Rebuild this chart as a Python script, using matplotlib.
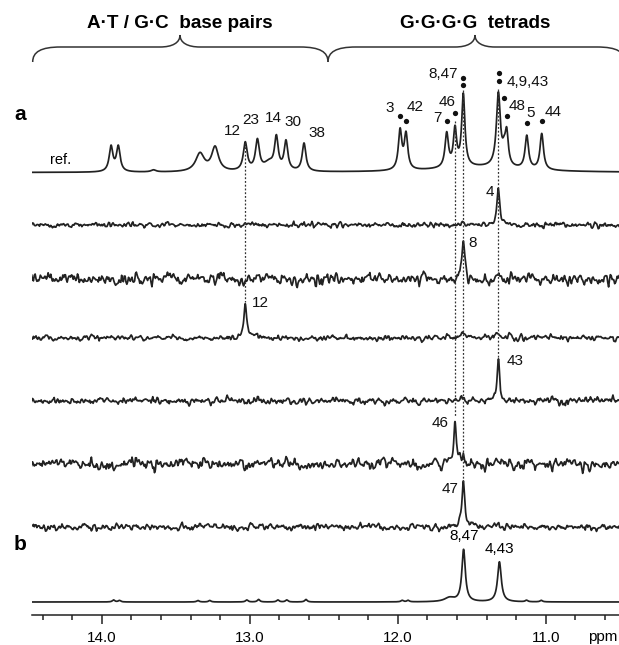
import numpy as np
import matplotlib
matplotlib.use("Agg")
import matplotlib.pyplot as plt
from matplotlib.path import Path
from matplotlib.patches import PathPatch
from matplotlib.ticker import MultipleLocator, FormatStrFormatter

plt.rcParams['font.family'] = ['Liberation Sans', 'DejaVu Sans']

# ---------------------------------------------------------
# DATA (ppm positions, heights in px, half-widths in ppm)
# ---------------------------------------------------------
ref_ppm    = [13.937, 13.888, 13.65, 13.336, 13.234, 13.03, 12.948, 12.87, 12.82, 12.755, 12.633,
              11.984, 11.944, 11.669, 11.613, 11.557, 11.32, 11.282, 11.264, 11.128, 11.027, 11.45]
ref_height = [25, 25, 2, 18, 24, 28, 30, 8, 32, 29, 28,
              39, 35, 34, 37, 72, 73, 10, 32, 33, 36, 5]
ref_width  = [0.015, 0.015, 0.02, 0.035, 0.028, 0.016, 0.016, 0.04, 0.015, 0.015, 0.015,
              0.014, 0.014, 0.014, 0.013, 0.013, 0.016, 0.013, 0.013, 0.014, 0.014, 0.35]

# selective experiments: main peak and a few small breakthrough peaks
sel_names  = ["4", "8", "12", "43", "46", "47"]
sel_ppm    = [11.32, 11.557, 13.03, 11.32, 11.613, 11.557]
sel_height = [37, 35, 35, 39, 43, 43]
sel_noise  = [1.9, 4.0, 2.0, 2.5, 4.0, 2.5]
sel_extra  = [[(11.557, 3)],
              [(11.32, 5)],
              [(12.95, 3), (11.66, 5), (11.56, 6), (11.33, 5), (11.25, 3)],
              [(11.557, 3)],
              [(11.56, 6), (11.75, 5)],
              [(11.32, 3)]]

b_ppm    = [11.555, 11.313, 11.65, 13.92, 13.88, 13.35, 13.27, 13.02, 12.94, 12.81, 12.75, 12.62,
            11.97, 11.93, 11.13, 11.03]
b_height = [52, 40, 4, 2, 1.5, 1.5, 1.5, 2, 2.5, 2, 2, 2.5, 1.5, 1.5, 1.5, 1.5]
b_width  = [0.014, 0.015, 0.04] + [0.01] * 13

# peak labels on reference: (text, ppm, y px)
ref_labels = [("12", 13.120, 131), ("23", 12.991, 120), ("14", 12.843, 118), ("30", 12.708, 122),
              ("38", 12.547, 133), ("3", 12.052, 108), ("42", 11.883, 107), ("7", 11.734, 118),
              ("46", 11.667, 102), ("8,47", 11.694, 74), ("4,9,43", 11.119, 82), ("48", 11.193, 106),
              ("5", 11.099, 113), ("44", 10.950, 112)]
dot_ppm = [11.984, 11.944, 11.669, 11.613, 11.557, 11.557, 11.319, 11.319, 11.282, 11.264, 11.128, 11.027]
dot_y   = [116, 120.7, 120.7, 113.3, 78, 85, 73, 81, 97.7, 116, 123.3, 120.7]

sel_label_ppm = [11.376, 11.491, 12.931, 11.207, 11.714, 11.646]
sel_label_y   = [191.7, 243, 303, 361, 423, 489]

# ---------------------------------------------------------
# LAYOUT (pixel units from top)
# ---------------------------------------------------------
W, H = 619, 645
ref_base = 172.5
sel_base = [225, 279, 338, 401, 464, 527]
b_base = 602
axis_y = 615


def lorentz(x, centers, heights, widths):
    y = np.zeros_like(x)
    for c, h, w in zip(centers, heights, widths):
        y += h * w**2 / ((x - c)**2 + w**2)
    return y


fig = plt.figure(figsize=(W / 100, H / 100), dpi=100)
left = 31.7 / W
ax = fig.add_axes([left, (H - axis_y) / H, 1 - left, axis_y / H])
ax.set_xlim(14.473, 10.505)
ax.set_ylim(axis_y, 0)
for s in ['top', 'left', 'right']:
    ax.spines[s].set_visible(False)
ax.spines['bottom'].set_linewidth(1.1)
ax.spines['bottom'].set_color('#222222')
ax.set_yticks([])
ax.xaxis.set_major_locator(MultipleLocator(1.0))
ax.xaxis.set_minor_locator(MultipleLocator(0.2))
ax.xaxis.set_major_formatter(FormatStrFormatter('%.1f'))
ax.tick_params(axis='x', which='major', length=6.5, width=1.1, pad=5, labelsize=11, color='#222222')
ax.tick_params(axis='x', which='minor', length=3.5, width=1.1, color='#222222')

line_kw = dict(color='#222222', lw=1.25)

# reference spectrum
x = np.linspace(14.473, 10.505, 4000)
ax.plot(x, ref_base - lorentz(x, ref_ppm, ref_height, ref_width), **line_kw)

# selective spectra with noise
rng = np.random.default_rng(11)
xn = np.linspace(14.473, 10.505, 680)
kern = np.array([0.2, 0.6, 0.2])
for i in range(len(sel_names)):
    noise = np.convolve(rng.normal(0, sel_noise[i], xn.size), kern, mode='same')
    cs = [sel_ppm[i]] + [e[0] for e in sel_extra[i]]
    hs = [sel_height[i]] + [e[1] for e in sel_extra[i]]
    ws = [0.011] * len(cs)
    xs = np.sort(np.concatenate([xn, np.linspace(sel_ppm[i] - 0.05, sel_ppm[i] + 0.05, 80)]))[::-1]
    ns = np.interp(xs[::-1], xn[::-1], noise[::-1])[::-1]
    ax.plot(xs, sel_base[i] - ns - lorentz(xs, cs, hs, ws), **line_kw)
    ax.text(sel_label_ppm[i], sel_label_y[i], sel_names[i], fontsize=11,
            ha='center', va='center', color='#111111')

# panel b
ax.plot(x, b_base - lorentz(x, b_ppm, b_height, b_width), **line_kw)
ax.text(11.552, 536, "8,47", fontsize=11, ha='center', va='center')
ax.text(11.316, 549, "4,43", fontsize=11, ha='center', va='center')

# dotted guide lines
guides = [(13.03, 143, 302), (11.613, 121, 417), (11.557, 90, 482), (11.32, 89, 360)]
for gx, y0, y1 in guides:
    ax.plot([gx, gx], [y0, y1], color='#333333', lw=0.9, ls=(0, (1.5, 1.5)))

# labels and dots on reference
for t, px, py in ref_labels:
    ax.text(px, py, t, fontsize=11, ha='center', va='center', color='#111111')
ax.plot(dot_ppm, dot_y, 'o', ms=3.8, color='#111111', mec='none')
ax.text(14.28, 160, "ref.", fontsize=10.5, ha='center', va='center')
ax.text(10.515, 637, "ppm", fontsize=11, ha='right', va='center', clip_on=False)

# overlay in pixel units for braces and panel letters
ov = fig.add_axes([0, 0, 1, 1])
ov.set_xlim(0, W)
ov.set_ylim(H, 0)
ov.axis('off')
ov.patch.set_alpha(0)


def brace(x0, x1, xm, y_end=62, y_h=47, y_tip=35):
    verts = [(x0, y_end), (x0, 52), (x0 + 8, y_h), (x0 + 28, y_h),
             (xm - 20, y_h),
             (xm - 8, y_h), (xm, 43), (xm, y_tip),
             (xm, 43), (xm + 8, y_h), (xm + 20, y_h),
             (x1 - 28, y_h),
             (x1 - 8, y_h), (x1, 52), (x1, y_end)]
    codes = [Path.MOVETO, Path.CURVE4, Path.CURVE4, Path.CURVE4,
             Path.LINETO,
             Path.CURVE4, Path.CURVE4, Path.CURVE4,
             Path.CURVE4, Path.CURVE4, Path.CURVE4,
             Path.LINETO,
             Path.CURVE4, Path.CURVE4, Path.CURVE4]
    ov.add_patch(PathPatch(Path(verts, codes), fc='none', ec='#333333', lw=1.1))


brace(32.7, 328, 180)
brace(328, 625, 475)
ov.text(180, 23, "A·T / G·C  base pairs", fontsize=13.6, fontweight='bold', ha='center', va='center')
ov.text(475, 23, "G·G·G·G  tetrads", fontsize=13.6, fontweight='bold', ha='center', va='center')
ov.text(20, 115, "a", fontsize=15, fontweight='bold', ha='center', va='center')
ov.text(20, 545, "b", fontsize=15, fontweight='bold', ha='center', va='center')

fig.savefig("out.png", dpi=100)
